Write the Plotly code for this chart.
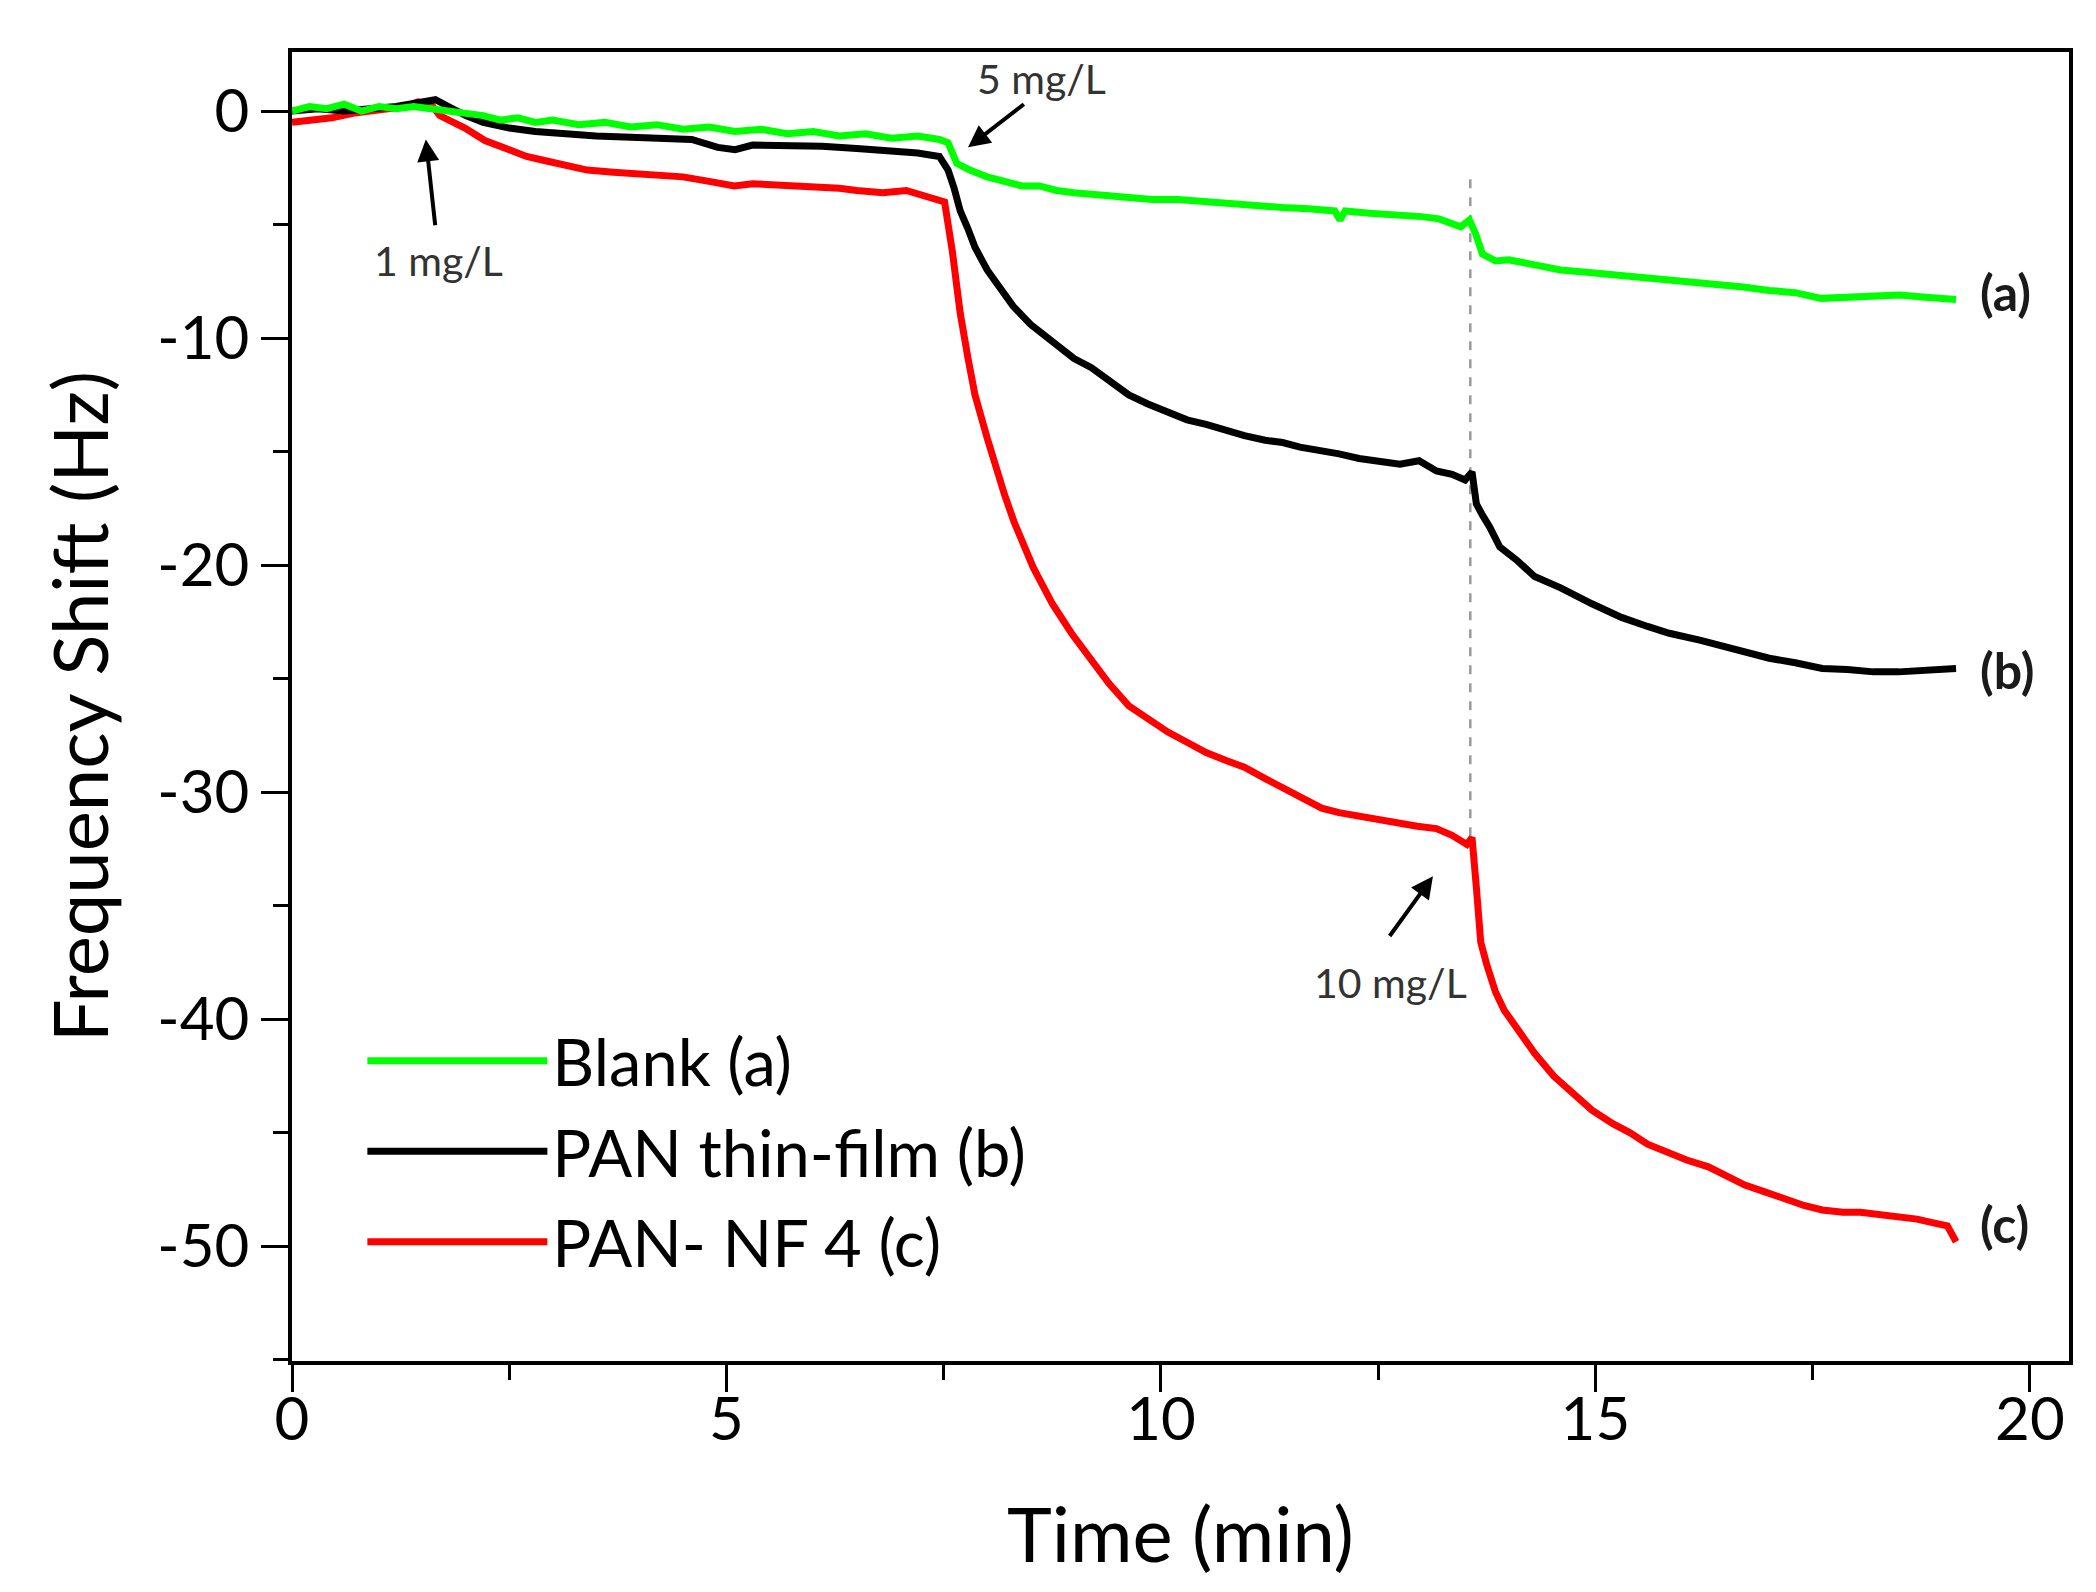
import plotly.graph_objects as go

# ---------------- data ----------------
blank_t = [0.0, 0.2, 0.4, 0.6, 0.8, 1.0, 1.2, 1.4, 1.6, 1.8, 2.0, 2.2, 2.4, 2.6, 2.8, 3.0,
           3.3, 3.6, 3.9, 4.2, 4.5, 4.8, 5.1, 5.4, 5.7, 6.0, 6.3, 6.6, 6.9, 7.2, 7.45, 7.55,
           7.65, 7.8, 8.0, 8.2, 8.4, 8.6, 8.8, 9.0, 9.3, 9.6, 9.9, 10.2, 10.5, 10.8, 11.1,
           11.4, 11.7, 12.0, 12.06, 12.12, 12.4, 12.7, 13.0, 13.2, 13.45, 13.55, 13.62, 13.7,
           13.85, 14.0, 14.3, 14.6, 14.9, 15.2, 15.5, 15.8, 16.1, 16.4, 16.7, 17.0, 17.3,
           17.6, 17.9, 18.2, 18.5, 18.8, 19.15]
blank_f = [0.0, 0.2, 0.1, 0.3, 0.0, 0.2, 0.1, 0.2, 0.1, 0.0, -0.1, -0.2, -0.4, -0.3, -0.5, -0.4,
           -0.6, -0.5, -0.7, -0.6, -0.8, -0.7, -0.9, -0.8, -1.0, -0.9, -1.1, -1.0, -1.2, -1.1, -1.25, -1.4,
           -2.3, -2.6, -2.9, -3.1, -3.3, -3.3, -3.5, -3.6, -3.7, -3.8, -3.9, -3.9, -4.0, -4.1, -4.2,
           -4.25, -4.3, -4.4, -4.8, -4.4, -4.5, -4.55, -4.65, -4.75, -5.1, -4.8, -5.4, -6.3,
           -6.6, -6.55, -6.8, -7.0, -7.1, -7.2, -7.3, -7.45, -7.5, -7.6, -7.75, -7.9, -8.0,
           -8.25, -8.2, -8.1, -8.1, -8.2, -8.3]

film_t = [0.0, 0.3, 0.6, 0.9, 1.2, 1.5, 1.65, 1.8, 2.0, 2.2, 2.5, 2.8, 3.1, 3.5, 3.9, 4.3, 4.6,
          4.9, 5.1, 5.3, 5.7, 6.1, 6.5, 6.9, 7.2, 7.45, 7.55, 7.62, 7.69, 7.78, 7.86, 8.0, 8.1,
          8.3, 8.5, 8.75, 9.0, 9.2, 9.4, 9.63, 9.85, 10.08, 10.3, 10.52, 10.75, 10.96, 11.2,
          11.4, 11.6, 11.85, 12.05, 12.28, 12.5, 12.75, 12.97, 13.17, 13.35, 13.5, 13.58,
          13.63, 13.7, 13.78, 13.9, 14.1, 14.3, 14.6, 14.96, 15.3, 15.6, 15.85, 16.2, 16.5,
          16.72, 17.0, 17.3, 17.61, 17.9, 18.2, 18.49, 18.8, 19.15]
film_f = [0.0, 0.1, 0.0, 0.1, 0.2, 0.4, 0.5, 0.2, -0.2, -0.5, -0.75, -0.9, -1.0, -1.1, -1.15, -1.2, -1.25,
          -1.6, -1.7, -1.5, -1.5, -1.55, -1.65, -1.75, -1.85, -2.0, -2.6, -3.4, -4.4, -5.2, -6.0, -7.0, -7.5,
          -8.6, -9.4, -10.2, -10.9, -11.3, -11.9, -12.5, -12.9, -13.3, -13.6, -13.8, -14.1, -14.3, -14.5,
          -14.6, -14.8, -14.95, -15.1, -15.3, -15.4, -15.55, -15.4, -15.85, -16.0, -16.25, -15.9,
          -17.3, -17.8, -18.3, -19.2, -19.8, -20.5, -21.0, -21.7, -22.3, -22.7, -23.0, -23.3, -23.6,
          -23.8, -24.1, -24.3, -24.55, -24.6, -24.7, -24.7, -24.6, -24.55]

nf_t = [0.0, 0.2, 0.46, 0.7, 0.92, 1.1, 1.3, 1.45, 1.6, 1.7, 1.85, 1.99, 2.22, 2.47, 2.7, 2.93,
        3.15, 3.4, 3.7, 4.06, 4.3, 4.5, 4.8, 5.09, 5.3, 5.55, 5.8, 6.1, 6.3, 6.5, 6.8, 7.07, 7.3,
        7.51, 7.6, 7.69, 7.78, 7.86, 8.0, 8.09, 8.2, 8.31, 8.42, 8.53, 8.64, 8.75, 8.97, 9.2, 9.4,
        9.63, 9.85, 10.08, 10.3, 10.52, 10.75, 10.96, 11.2, 11.4, 11.6, 11.85, 12.05, 12.28, 12.5,
        12.73, 12.95, 13.17, 13.35, 13.52, 13.58, 13.63, 13.68, 13.75, 13.85, 13.95, 14.08, 14.3,
        14.52, 14.75, 14.96, 15.2, 15.4, 15.6, 15.85, 16.05, 16.3, 16.5, 16.72, 16.95, 17.17, 17.4,
        17.61, 17.85, 18.05, 18.3, 18.49, 18.7, 18.93, 19.05, 19.15]
nf_f = [-0.5, -0.4, -0.3, -0.1, 0.0, 0.1, 0.2, 0.4, 0.3, -0.2, -0.5, -0.75, -1.3, -1.7, -2.0, -2.2,
        -2.4, -2.6, -2.7, -2.8, -2.9, -2.9, -3.1, -3.3, -3.2, -3.25, -3.3, -3.3, -3.4, -3.5, -3.6, -3.5, -3.8,
        -4.0, -6.2, -8.9, -10.9, -12.5, -14.4, -15.6, -16.9, -18.1, -19.2, -20.1, -20.9, -21.7, -23.0, -24.2, -25.2,
        -26.2, -26.8, -27.35, -27.8, -28.25, -28.6, -28.9, -29.4, -29.8, -30.2, -30.7, -30.9, -31.05, -31.2,
        -31.4, -31.5, -31.6, -31.9, -32.3, -32.0, -34.2, -36.6, -37.6, -38.8, -39.6, -40.3, -41.5,
        -42.5, -43.3, -44.0, -44.6, -45.0, -45.5, -45.9, -46.2, -46.5, -46.9, -47.3, -47.6, -47.9, -48.2,
        -48.4, -48.5, -48.5, -48.6, -48.7, -48.8, -49.0, -49.1, -49.8]

series_names = ["Blank (a)", "PAN thin-film (b)", "PAN- NF 4 (c)"]
series_colors = ["#00FF00", "#000000", "#FF0000"]

x_ticks = [0, 5, 10, 15, 20]
x_ticktext = ["0", "5", "10", "15", "20"]
y_ticks = [0, -10, -20, -30, -40, -50]
y_ticktext = ["0", "-10", "-20", "-30", "-40", "-50"]

# injection marker (dashed line) and annotation positions (data units)
inject_time = 13.56
inject_span = [-3.0, -32.3]
curve_labels = ["(a)", "(b)", "(c)"]
curve_label_y = [-7.95, -24.6, -49.0]
curve_label_x = 19.40
conc_labels = ["1 mg/L", "5 mg/L", "10 mg/L"]
conc_text_xy = [(1.69, -6.6), (8.63, 1.45), (12.64, -38.4)]
conc_arrow_head = [(1.54, -1.25), (7.78, -1.6), (13.13, -33.7)]
conc_arrow_tail = [(1.65, -5.1), (8.44, 0.35), (12.62, -36.4)]

FONT = "Lato, 'Open Sans', sans-serif"

fig = go.Figure()
data_sets = [(blank_t, blank_f), (film_t, film_f), (nf_t, nf_f)]
# draw red first, green on top
for idx in [2, 1, 0]:
    t, f = data_sets[idx]
    fig.add_trace(go.Scatter(
        x=t, y=f, mode="lines", name=series_names[idx],
        line=dict(color=series_colors[idx], width=7),
        legendrank=idx + 1, legendgroup=str(idx),
    ))

fig.add_shape(type="line", xref="x", yref="y",
              x0=inject_time, x1=inject_time, y0=inject_span[0], y1=inject_span[1],
              line=dict(color="#9a9a9a", width=2.5, dash="dash"), layer="below")

for txt, yv in zip(curve_labels, curve_label_y):
    fig.add_annotation(x=curve_label_x, y=yv, text="<b>%s</b>" % txt, showarrow=False,
                       xanchor="left", yanchor="middle",
                       font=dict(family=FONT, size=50, color="#1a1a1a"))

for txt, (tx, ty), (hx, hy), (ax, ay) in zip(conc_labels, conc_text_xy, conc_arrow_head, conc_arrow_tail):
    fig.add_annotation(x=tx, y=ty, text=txt, showarrow=False,
                       font=dict(family=FONT, size=41, color="#333333"))
    fig.add_annotation(x=hx, y=hy, ax=ax, ay=ay, axref="x", ayref="y", text="",
                       showarrow=True, arrowhead=2, arrowsize=1.1, arrowwidth=4,
                       arrowcolor="#000000", standoff=0, startstandoff=0)

axis_common = dict(
    showline=True, linewidth=3.5, linecolor="black", mirror=True,
    ticks="outside", ticklen=27, tickwidth=3, tickcolor="black",
    showgrid=False, zeroline=False,
    tickfont=dict(family=FONT, size=60, color="black"),
)

fig.update_layout(
    width=2096, height=1592,
    margin=dict(l=284, r=35, t=44, b=239),
    plot_bgcolor="white", paper_bgcolor="white",
    font=dict(family=FONT, color="black"),
    xaxis=dict(range=[0, 20.45], tickvals=x_ticks, ticktext=x_ticktext,
               ticklabelstandoff=-24,
               minor=dict(ticks="outside", ticklen=15, tickwidth=3, tickcolor="black", dtick=2.5, tick0=0),
               title=dict(text="Time (min)", font=dict(family=FONT, size=76), standoff=58),
               **axis_common),
    yaxis=dict(range=[-55.05, 2.6], tickvals=y_ticks, ticktext=y_ticktext,
               minor=dict(ticks="outside", ticklen=15, tickwidth=3, tickcolor="black", dtick=5, tick0=0),
               title=dict(text="Frequency Shift (Hz)", font=dict(family=FONT, size=76), standoff=25),
               **axis_common),
    legend=dict(x=0.0396, y=0.2666, xanchor="left", yanchor="top",
                bgcolor="rgba(0,0,0,0)", borderwidth=0,
                font=dict(family=FONT, size=65, color="black"),
                itemwidth=180, tracegroupgap=3),
    showlegend=True,
)

fig.write_html("out.html")
